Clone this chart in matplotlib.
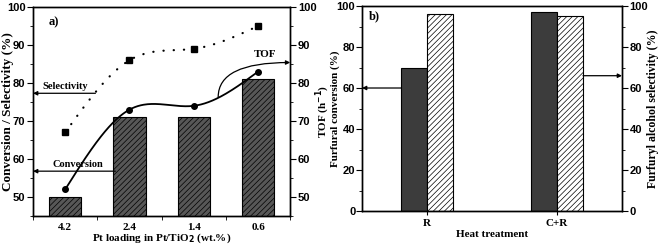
import numpy as np
import matplotlib
matplotlib.use("Agg")
import matplotlib.pyplot as plt
from matplotlib.font_manager import FontProperties

# ---- data ----
pt_labels = ["4.2", "2.4", "1.4", "0.6"]
conversion_a = [50, 71, 71, 81]
selectivity_a = [67, 86, 89, 95]
tof_a = [52, 73, 74, 83]

treat_labels = ["R", "C+R"]
conversion_b = [70, 97]
selectivity_b = [96, 95]

plt.rcParams['font.family'] = ['Liberation Serif', 'DejaVu Serif']
plt.rcParams['font.weight'] = 'bold'
plt.rcParams['hatch.linewidth'] = 0.5
plt.rcParams['axes.linewidth'] = 1.0

def nat_spline(x, y, n=200):
    x = np.asarray(x, float); y = np.asarray(y, float)
    m = len(x); h = np.diff(x)
    A = np.zeros((m, m)); b = np.zeros(m)
    A[0, 0] = 1; A[-1, -1] = 1
    for i in range(1, m - 1):
        A[i, i - 1] = h[i - 1]; A[i, i] = 2 * (h[i - 1] + h[i]); A[i, i + 1] = h[i]
        b[i] = 3 * ((y[i + 1] - y[i]) / h[i] - (y[i] - y[i - 1]) / h[i - 1])
    c = np.linalg.solve(A, b)
    xs = np.linspace(x[0], x[-1], n); ys = np.empty_like(xs)
    for k, xv in enumerate(xs):
        i = min(np.searchsorted(x, xv, side='right') - 1, m - 2)
        bi = (y[i + 1] - y[i]) / h[i] - h[i] * (2 * c[i] + c[i + 1]) / 3
        di = (c[i + 1] - c[i]) / (3 * h[i])
        t = xv - x[i]
        ys[k] = y[i] + bi * t + c[i] * t ** 2 + di * t ** 3
    return xs, ys

fig = plt.figure(figsize=(6.61, 2.47), dpi=100)
tickfp = FontProperties(family=['Liberation Sans', 'DejaVu Sans'], weight='bold', size=8)
LABEL_FS = 8
TICK_X_FS = 8

def style_y(ax, major, minor, pad=1.5):
    ax.set_yticks(major)
    ax.set_yticks(minor, minor=True)
    ax.tick_params(axis='y', which='major', length=4, direction='out', pad=pad)
    ax.tick_params(axis='y', which='minor', length=2, direction='out')
    for lab in ax.get_yticklabels():
        lab.set_fontproperties(tickfp)

# ---- panel a ----
ax1 = fig.add_axes([0.050, 0.1255, 0.389, 0.846])
x = np.arange(len(pt_labels))
ax1.bar(x, conversion_a, width=0.5, color='#575757', edgecolor='black',
        hatch='//////', linewidth=0.8, zorder=2)
ax1.set_xlim(-0.5, 3.5)
ax1.set_ylim(45, 100)
style_y(ax1, [50, 60, 70, 80, 90, 100], np.arange(45, 101, 5))
ax1.set_xticks(x)
ax1.set_xticklabels(pt_labels, fontsize=TICK_X_FS, fontweight='bold')
ax1.set_xticks(np.arange(-0.5, 3.6, 1), minor=True)
ax1.tick_params(axis='x', which='major', length=0, pad=5)
ax1.tick_params(axis='x', which='minor', length=3, direction='out')
ax1.set_ylabel("Conversion / Selectivity (%)", fontsize=9.5, fontweight='bold')
ax1.yaxis.set_label_coords(-0.076, 0.5)
ax1.set_xlabel("Pt loading in Pt/TiO$_\\mathbf{2}$ (wt.%)", fontsize=LABEL_FS, fontweight='bold', labelpad=0)

xs, ys = nat_spline(x, selectivity_a)
ax1.plot(xs, ys, color='black', linewidth=1.6, dashes=(0.1, 4.5), dash_capstyle='round', zorder=3)
ax1.plot(x, selectivity_a, 's', color='black', markersize=4, zorder=4)
xs, ys = nat_spline(x, tof_a)
ax1.plot(xs, ys, color='black', linewidth=1.3, zorder=3)
ax1.plot(x, tof_a, 'o', color='black', markersize=4, zorder=4)

ax1r = ax1.twinx()
ax1r.set_ylim(45, 100)
style_y(ax1r, [50, 60, 70, 80, 90, 100], np.arange(45, 101, 5))
ax1r.set_ylabel("TOF (h$^{\\mathbf{-1}}$)", fontsize=LABEL_FS, fontweight='bold')
ax1r.yaxis.set_label_coords(1.093, 0.5)

arrow = dict(arrowstyle='-|>', color='black', lw=0.9, mutation_scale=6, shrinkA=0, shrinkB=0)
ax1.annotate("", xy=(-0.5, 77.3), xytext=(0.47, 77.3), arrowprops=arrow)
ax1.text(0.0, 77.8, "Selectivity", ha='center', va='bottom', fontsize=7.5, fontweight='bold')
ax1.annotate("", xy=(-0.5, 56.8), xytext=(0.78, 56.8), arrowprops=arrow)
ax1.text(0.2, 57.3, "Conversion", ha='center', va='bottom', fontsize=7.5, fontweight='bold')
ax1.annotate("", xy=(3.5, 85.4), xytext=(2.38, 76.3),
             arrowprops=dict(arrow, connectionstyle='angle3,angleA=90,angleB=0'))
ax1.text(3.11, 86.2, "TOF", ha='center', va='bottom', fontsize=8, fontweight='bold')
ax1.text(-0.25, 96, "a)", ha='left', va='center', fontsize=9, fontweight='bold')

# ---- panel b ----
ax2 = fig.add_axes([0.5477, 0.1457, 0.3933, 0.830])
xb = np.arange(len(treat_labels))
ax2.bar(xb - 0.1, conversion_b, width=0.2, color='#3c3c3c', edgecolor='black', linewidth=0.8, zorder=2)
ax2.bar(xb + 0.1, selectivity_b, width=0.2, color='white', edgecolor='black', hatch='//////',
        linewidth=0.8, zorder=2)
ax2.set_xlim(-0.5, 1.5)
ax2.set_ylim(0, 100)
style_y(ax2, np.arange(0, 101, 20), np.arange(0, 101, 10), pad=0.8)
ax2.set_xticks(xb)
ax2.set_xticklabels(treat_labels, fontsize=TICK_X_FS, fontweight='bold')
ax2.tick_params(axis='x', which='major', length=3, direction='out', pad=3)
ax2.set_ylabel("Furfural conversion (%)", fontsize=LABEL_FS, fontweight='bold')
ax2.yaxis.set_label_coords(-0.084, 0.5)
ax2.set_xlabel("Heat treatment", fontsize=LABEL_FS, fontweight='bold', labelpad=1)

ax2r = ax2.twinx()
ax2r.set_ylim(0, 100)
style_y(ax2r, np.arange(0, 101, 20), np.arange(0, 101, 10))
ax2r.set_ylabel("Furfuryl alcohol selectivity (%)", fontsize=8.5, fontweight='bold')
ax2r.yaxis.set_label_coords(1.096, 0.5)

ax2.annotate("", xy=(-0.5, 60), xytext=(-0.2, 60), arrowprops=arrow)
ax2.annotate("", xy=(1.5, 66), xytext=(1.2, 66), arrowprops=arrow)
ax2.text(-0.45, 95, "b)", ha='left', va='center', fontsize=9, fontweight='bold')

fig.savefig("out.png", dpi=100)
